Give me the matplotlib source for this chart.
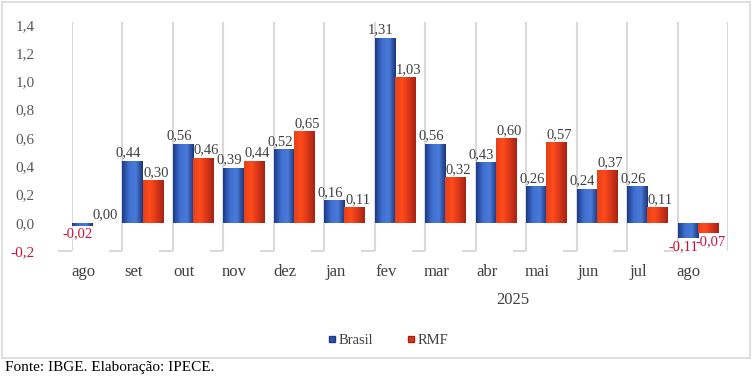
import numpy as np
import matplotlib.pyplot as plt
from matplotlib.colors import LinearSegmentedColormap
from matplotlib.patches import Rectangle
from matplotlib.lines import Line2D

# data
meses = ["ago", "set", "out", "nov", "dez", "jan", "fev", "mar", "abr", "mai", "jun", "jul", "ago"]
brasil = [-0.02, 0.44, 0.56, 0.39, 0.52, 0.16, 1.31, 0.56, 0.43, 0.26, 0.24, 0.26, -0.11]
rmf = [0.00, 0.30, 0.46, 0.44, 0.65, 0.11, 1.03, 0.32, 0.60, 0.57, 0.37, 0.11, -0.07]
yticks = [-0.2, 0.0, 0.2, 0.4, 0.6, 0.8, 1.0, 1.2, 1.4]

plt.rcParams['font.family'] = ['Liberation Serif', 'DejaVu Serif']

cmap_blue = LinearSegmentedColormap.from_list("b", ["#1c3a86", "#3f6fd0", "#4a7ad8", "#1a357a"])
cmap_red = LinearSegmentedColormap.from_list("r", ["#e8401a", "#ff4c1c", "#d8361a", "#a52312"])
grad = np.linspace(0, 1, 64).reshape(1, -1)

fig = plt.figure(figsize=(7.53, 3.76), dpi=100)
ax = fig.add_axes([72/753, 1 - 251/376, (728-72)/753, (251-22)/376])

x = np.arange(len(meses))
w = 0.4
neg_color = "#c8143c"
lab_color = "#404040"


def gradient_bar(xl, val, cmap):
    p = ax.bar(xl, val, width=w, align="edge", facecolor="none", edgecolor="none")[0]
    im = ax.imshow(grad, cmap=cmap, aspect="auto", extent=[xl, xl + w, min(0, val), max(0, val)],
                   zorder=2)
    im.set_clip_path(p)


for i in range(len(meses)):
    gradient_bar(x[i], brasil[i], cmap_blue)
    gradient_bar(x[i] + w, rmf[i], cmap_red)
    # labels sit a little left of the blue bar and a little right of the red one, like the original
    for xc, v in ((x[i] + w/2 - 0.08, brasil[i]), (x[i] + 1.5*w + 0.06, rmf[i])):
        txt = f"{v:.2f}".replace(".", ",")
        if v < 0:
            ax.text(xc, v - 0.015, txt, ha="center", va="top", fontsize=10.5, color=neg_color)
        else:
            ax.text(xc, v + 0.008, txt, ha="center", va="bottom", fontsize=10.5, color=lab_color)

# vertical separators and little floor segments
for k in range(len(meses) + 1):
    ax.axvline(k, color="#d9d9d9", lw=1.5, zorder=0)
for k in range(len(meses)):
    ax.hlines(-0.2, k - 0.27, k, color="#d9d9d9", lw=1.5, clip_on=False, zorder=0)

ax.set_xlim(0, len(meses))
ax.set_ylim(-0.2, 1.42)
ax.set_yticks(yticks)
ax.set_yticklabels([f"{t:.1f}".replace(".", ",") for t in yticks], fontsize=11, color="#595959")
ax.get_yticklabels()[0].set_color(neg_color)
ax.set_xticks(x + 0.22)
ax.set_xticklabels(meses, fontsize=12, color="#404040")
ax.tick_params(length=0)
ax.tick_params(axis="y", pad=27)
ax.tick_params(axis="x", pad=9)
for s in ax.spines.values():
    s.set_visible(False)

fig.text(513/753, 1 - 300/376, "2025", ha="center", va="center", fontsize=12, color="#404040")

handles = [Line2D([], [], marker="s", ls="none", markersize=5, markerfacecolor="#2a4fb0", markeredgecolor="#1c3a86"),
           Line2D([], [], marker="s", ls="none", markersize=5, markerfacecolor="#d8361a", markeredgecolor="#a52312")]
fig.legend(handles, ["Brasil", "RMF"], loc="center", bbox_to_anchor=(387/753, 1 - 340/376), ncol=2,
           frameon=False, prop={"family": "Liberation Serif", "size": 10.5}, handletextpad=0.05,
           columnspacing=2.2, handlelength=0.8, labelcolor="#404040")

fig.add_artist(Rectangle((2/753, 1 - 358/376), 748/753, 356/376, transform=fig.transFigure,
                         fill=False, edgecolor="#d9d9d9", lw=1.2))
fig.text(5/753, 1 - 368/376, "Fonte: IBGE. Elaboração: IPECE.", ha="left", va="center", fontsize=11, color="black")

fig.savefig("out.png", dpi=100)
